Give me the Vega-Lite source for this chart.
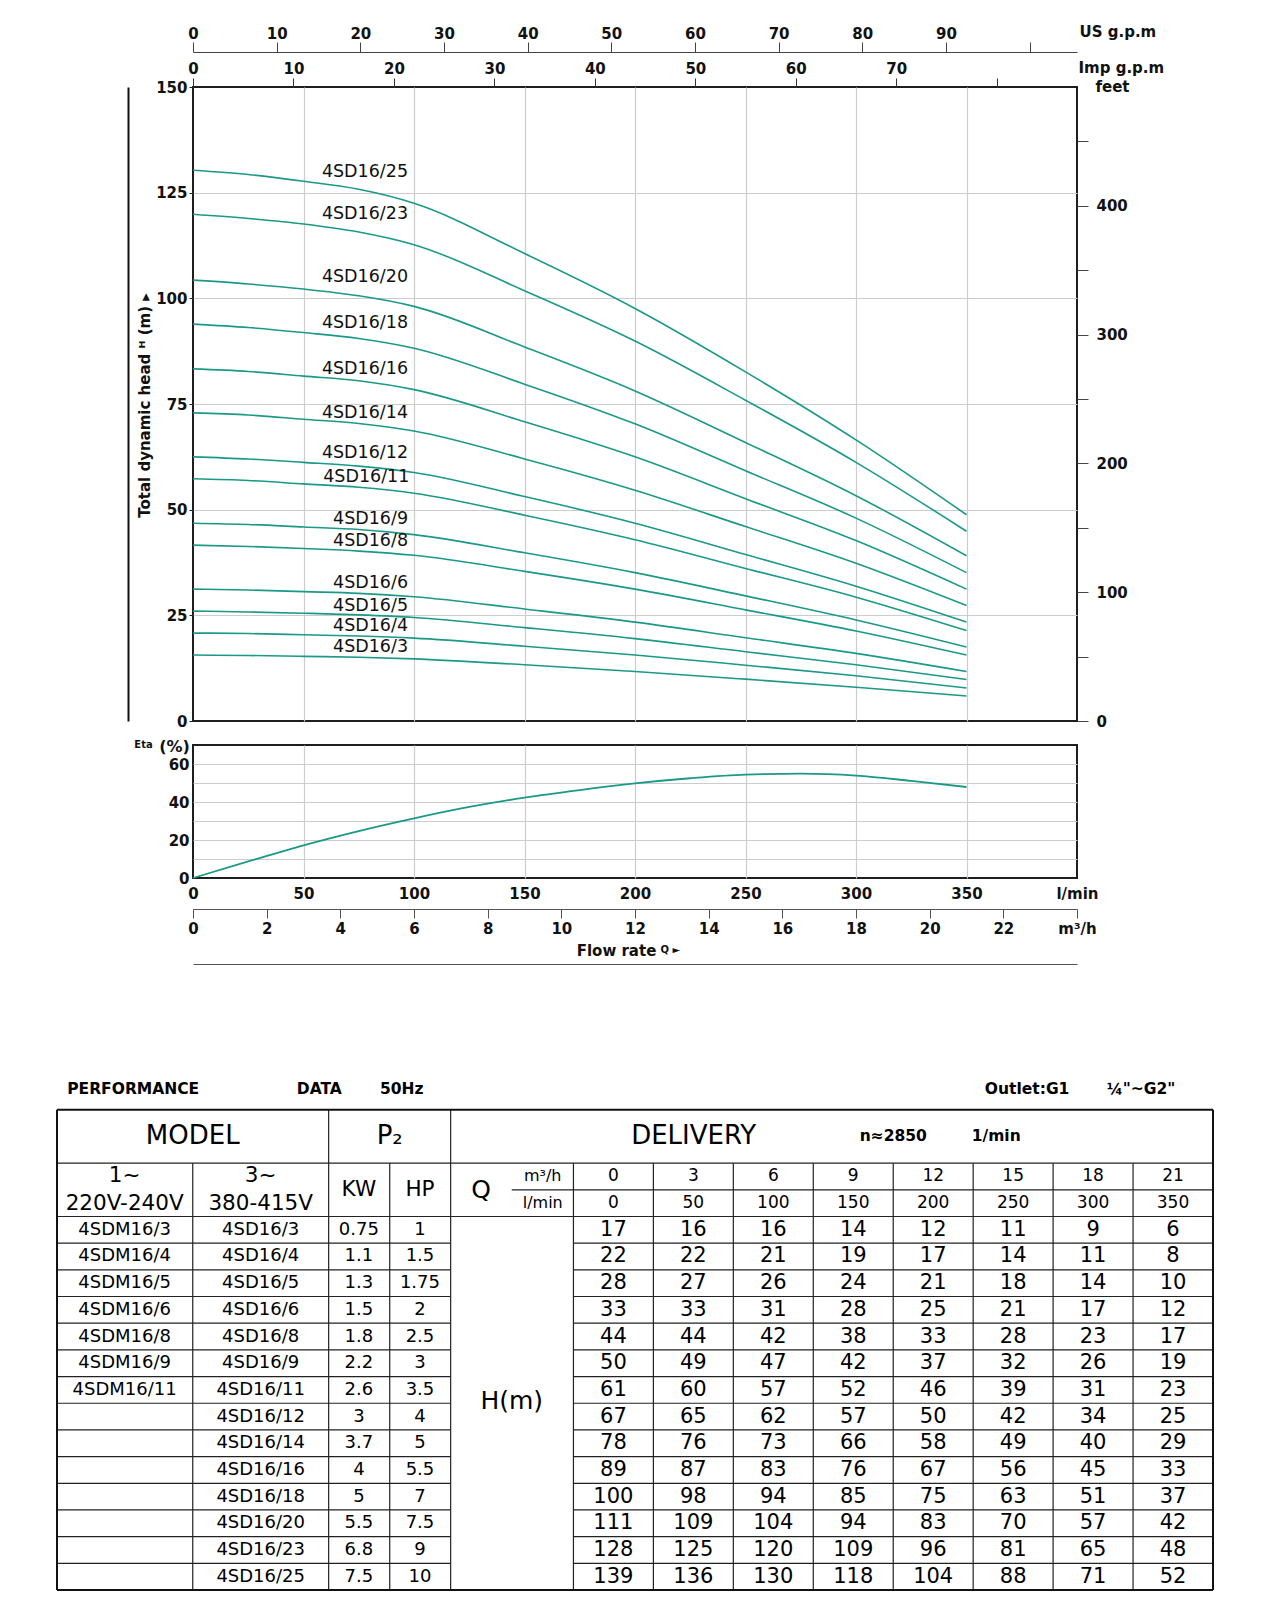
{
"$schema": "https://vega.github.io/schema/vega-lite/v6.json",
"background": "white",
"padding": {"left": 56, "top": 23, "right": 5, "bottom": 5},
"spacing": 24,
"center": true,
"bounds": "flush",
"config": {
  "font": "DejaVu Sans",
  "view": {"stroke": "#1e1e1e", "strokeWidth": 2},
  "axis": {"labelFont": "DejaVu Sans", "labelFontWeight": "bold", "labelFontSize": 15, "labelColor": "#111", "titleFont": "DejaVu Sans", "titleColor": "#111", "titleFontWeight": "bold", "titleFontSize": 15, "labelFlush": false, "labelOverlap": false, "gridColor": "#cccccc", "gridWidth": 1.2, "tickColor": "#333", "domainColor": "#333"},
  "text": {"font": "DejaVu Sans", "color": "#111"}
},
"datasets": {
  "curves": [
    {"model":"4SD16/25","q":0,"h":130.3},{"model":"4SD16/25","q":25,"h":129.3},{"model":"4SD16/25","q":50,"h":127.7},{"model":"4SD16/25","q":75,"h":125.8},{"model":"4SD16/25","q":100,"h":122.5},{"model":"4SD16/25","q":150,"h":110.6},{"model":"4SD16/25","q":200,"h":97.6},{"model":"4SD16/25","q":250,"h":82.6},{"model":"4SD16/25","q":300,"h":66.5},{"model":"4SD16/25","q":350,"h":48.8},
    {"model":"4SD16/23","q":0,"h":119.9},{"model":"4SD16/23","q":25,"h":118.9},{"model":"4SD16/23","q":50,"h":117.6},{"model":"4SD16/23","q":75,"h":115.7},{"model":"4SD16/23","q":100,"h":112.7},{"model":"4SD16/23","q":150,"h":101.8},{"model":"4SD16/23","q":200,"h":89.9},{"model":"4SD16/23","q":250,"h":75.9},{"model":"4SD16/23","q":300,"h":61.2},{"model":"4SD16/23","q":350,"h":44.9},
    {"model":"4SD16/20","q":0,"h":104.3},{"model":"4SD16/20","q":25,"h":103.4},{"model":"4SD16/20","q":50,"h":102.2},{"model":"4SD16/20","q":75,"h":100.6},{"model":"4SD16/20","q":100,"h":98.1},{"model":"4SD16/20","q":150,"h":88.5},{"model":"4SD16/20","q":200,"h":78.1},{"model":"4SD16/20","q":250,"h":65.9},{"model":"4SD16/20","q":300,"h":53.3},{"model":"4SD16/20","q":350,"h":39.1},
    {"model":"4SD16/18","q":0,"h":93.9},{"model":"4SD16/18","q":25,"h":93.1},{"model":"4SD16/18","q":50,"h":91.9},{"model":"4SD16/18","q":75,"h":90.5},{"model":"4SD16/18","q":100,"h":88.2},{"model":"4SD16/18","q":150,"h":79.7},{"model":"4SD16/18","q":200,"h":70.3},{"model":"4SD16/18","q":250,"h":59.2},{"model":"4SD16/18","q":300,"h":48.0},{"model":"4SD16/18","q":350,"h":35.1},
    {"model":"4SD16/16","q":0,"h":83.3},{"model":"4SD16/16","q":25,"h":82.7},{"model":"4SD16/16","q":50,"h":81.6},{"model":"4SD16/16","q":75,"h":80.5},{"model":"4SD16/16","q":100,"h":78.4},{"model":"4SD16/16","q":150,"h":70.8},{"model":"4SD16/16","q":200,"h":62.5},{"model":"4SD16/16","q":250,"h":52.6},{"model":"4SD16/16","q":300,"h":42.7},{"model":"4SD16/16","q":350,"h":31.2},
    {"model":"4SD16/14","q":0,"h":72.9},{"model":"4SD16/14","q":25,"h":72.4},{"model":"4SD16/14","q":50,"h":71.4},{"model":"4SD16/14","q":75,"h":70.4},{"model":"4SD16/14","q":100,"h":68.6},{"model":"4SD16/14","q":150,"h":62.0},{"model":"4SD16/14","q":200,"h":54.6},{"model":"4SD16/14","q":250,"h":46.0},{"model":"4SD16/14","q":300,"h":37.3},{"model":"4SD16/14","q":350,"h":27.3},
    {"model":"4SD16/12","q":0,"h":62.5},{"model":"4SD16/12","q":25,"h":62.0},{"model":"4SD16/12","q":50,"h":61.2},{"model":"4SD16/12","q":75,"h":60.3},{"model":"4SD16/12","q":100,"h":58.8},{"model":"4SD16/12","q":150,"h":53.1},{"model":"4SD16/12","q":200,"h":46.8},{"model":"4SD16/12","q":250,"h":39.4},{"model":"4SD16/12","q":300,"h":31.9},{"model":"4SD16/12","q":350,"h":23.4},
    {"model":"4SD16/11","q":0,"h":57.3},{"model":"4SD16/11","q":25,"h":56.9},{"model":"4SD16/11","q":50,"h":56.1},{"model":"4SD16/11","q":75,"h":55.3},{"model":"4SD16/11","q":100,"h":53.9},{"model":"4SD16/11","q":150,"h":48.7},{"model":"4SD16/11","q":200,"h":42.9},{"model":"4SD16/11","q":250,"h":36.1},{"model":"4SD16/11","q":300,"h":29.3},{"model":"4SD16/11","q":350,"h":21.4},
    {"model":"4SD16/9","q":0,"h":46.8},{"model":"4SD16/9","q":25,"h":46.5},{"model":"4SD16/9","q":50,"h":45.9},{"model":"4SD16/9","q":75,"h":45.3},{"model":"4SD16/9","q":100,"h":44.1},{"model":"4SD16/9","q":150,"h":39.8},{"model":"4SD16/9","q":200,"h":35.1},{"model":"4SD16/9","q":250,"h":29.6},{"model":"4SD16/9","q":300,"h":23.9},{"model":"4SD16/9","q":350,"h":17.5},
    {"model":"4SD16/8","q":0,"h":41.6},{"model":"4SD16/8","q":25,"h":41.3},{"model":"4SD16/8","q":50,"h":40.8},{"model":"4SD16/8","q":75,"h":40.2},{"model":"4SD16/8","q":100,"h":39.2},{"model":"4SD16/8","q":150,"h":35.4},{"model":"4SD16/8","q":200,"h":31.2},{"model":"4SD16/8","q":250,"h":26.3},{"model":"4SD16/8","q":300,"h":21.3},{"model":"4SD16/8","q":350,"h":15.6},
    {"model":"4SD16/6","q":0,"h":31.2},{"model":"4SD16/6","q":25,"h":31.0},{"model":"4SD16/6","q":50,"h":30.6},{"model":"4SD16/6","q":75,"h":30.2},{"model":"4SD16/6","q":100,"h":29.4},{"model":"4SD16/6","q":150,"h":26.5},{"model":"4SD16/6","q":200,"h":23.4},{"model":"4SD16/6","q":250,"h":19.7},{"model":"4SD16/6","q":300,"h":16.0},{"model":"4SD16/6","q":350,"h":11.7},
    {"model":"4SD16/5","q":0,"h":26.0},{"model":"4SD16/5","q":25,"h":25.8},{"model":"4SD16/5","q":50,"h":25.5},{"model":"4SD16/5","q":75,"h":25.1},{"model":"4SD16/5","q":100,"h":24.5},{"model":"4SD16/5","q":150,"h":22.1},{"model":"4SD16/5","q":200,"h":19.5},{"model":"4SD16/5","q":250,"h":16.4},{"model":"4SD16/5","q":300,"h":13.3},{"model":"4SD16/5","q":350,"h":9.8},
    {"model":"4SD16/4","q":0,"h":20.8},{"model":"4SD16/4","q":25,"h":20.7},{"model":"4SD16/4","q":50,"h":20.4},{"model":"4SD16/4","q":75,"h":20.1},{"model":"4SD16/4","q":100,"h":19.6},{"model":"4SD16/4","q":150,"h":17.7},{"model":"4SD16/4","q":200,"h":15.6},{"model":"4SD16/4","q":250,"h":13.2},{"model":"4SD16/4","q":300,"h":10.7},{"model":"4SD16/4","q":350,"h":7.8},
    {"model":"4SD16/3","q":0,"h":15.6},{"model":"4SD16/3","q":25,"h":15.5},{"model":"4SD16/3","q":50,"h":15.3},{"model":"4SD16/3","q":75,"h":15.1},{"model":"4SD16/3","q":100,"h":14.7},{"model":"4SD16/3","q":150,"h":13.3},{"model":"4SD16/3","q":200,"h":11.7},{"model":"4SD16/3","q":250,"h":9.9},{"model":"4SD16/3","q":300,"h":8.0},{"model":"4SD16/3","q":350,"h":5.9}
  ],
  "labels": [
    {"model":"4SD16/25","lq":97.3,"lh":130.0},{"model":"4SD16/23","lq":97.3,"lh":120.0},{"model":"4SD16/20","lq":97.3,"lh":105.0},{"model":"4SD16/18","lq":97.3,"lh":94.2},{"model":"4SD16/16","lq":97.3,"lh":83.3},{"model":"4SD16/14","lq":97.3,"lh":72.9},{"model":"4SD16/12","lq":97.3,"lh":63.5},{"model":"4SD16/11","lq":97.9,"lh":57.7},{"model":"4SD16/9","lq":97.3,"lh":47.9},{"model":"4SD16/8","lq":97.3,"lh":42.6},{"model":"4SD16/6","lq":97.3,"lh":32.7},{"model":"4SD16/5","lq":97.3,"lh":27.2},{"model":"4SD16/4","lq":97.3,"lh":22.5},{"model":"4SD16/3","lq":97.3,"lh":17.5}
  ],
  "eta": [
    {"q":0,"eta":0},{"q":25,"eta":8.7},{"q":50,"eta":17.2},{"q":75,"eta":24.7},{"q":100,"eta":31.4},{"q":125,"eta":37.4},{"q":150,"eta":42.3},{"q":175,"eta":46.3},{"q":200,"eta":49.8},{"q":225,"eta":52.5},{"q":250,"eta":54.4},{"q":275,"eta":54.9},{"q":300,"eta":53.9},{"q":325,"eta":51.1},{"q":350,"eta":47.9}
  ],
  "models": [
    {"row":1,"m1":"4SDM16/3","m3":"4SD16/3","kw":"0.75","hp":"1"},
    {"row":2,"m1":"4SDM16/4","m3":"4SD16/4","kw":"1.1","hp":"1.5"},
    {"row":3,"m1":"4SDM16/5","m3":"4SD16/5","kw":"1.3","hp":"1.75"},
    {"row":4,"m1":"4SDM16/6","m3":"4SD16/6","kw":"1.5","hp":"2"},
    {"row":5,"m1":"4SDM16/8","m3":"4SD16/8","kw":"1.8","hp":"2.5"},
    {"row":6,"m1":"4SDM16/9","m3":"4SD16/9","kw":"2.2","hp":"3"},
    {"row":7,"m1":"4SDM16/11","m3":"4SD16/11","kw":"2.6","hp":"3.5"},
    {"row":8,"m1":"","m3":"4SD16/12","kw":"3","hp":"4"},
    {"row":9,"m1":"","m3":"4SD16/14","kw":"3.7","hp":"5"},
    {"row":10,"m1":"","m3":"4SD16/16","kw":"4","hp":"5.5"},
    {"row":11,"m1":"","m3":"4SD16/18","kw":"5","hp":"7"},
    {"row":12,"m1":"","m3":"4SD16/20","kw":"5.5","hp":"7.5"},
    {"row":13,"m1":"","m3":"4SD16/23","kw":"6.8","hp":"9"},
    {"row":14,"m1":"","m3":"4SD16/25","kw":"7.5","hp":"10"}
  ],
  "qcols": [
    {"q":0,"m3h":0},{"q":50,"m3h":3},{"q":100,"m3h":6},{"q":150,"m3h":9},{"q":200,"m3h":12},{"q":250,"m3h":15},{"q":300,"m3h":18},{"q":350,"m3h":21}
  ],
  "hvals": [
    {"row":1,"q":0,"h":17},{"row":1,"q":50,"h":16},{"row":1,"q":100,"h":16},{"row":1,"q":150,"h":14},{"row":1,"q":200,"h":12},{"row":1,"q":250,"h":11},{"row":1,"q":300,"h":9},{"row":1,"q":350,"h":6},
    {"row":2,"q":0,"h":22},{"row":2,"q":50,"h":22},{"row":2,"q":100,"h":21},{"row":2,"q":150,"h":19},{"row":2,"q":200,"h":17},{"row":2,"q":250,"h":14},{"row":2,"q":300,"h":11},{"row":2,"q":350,"h":8},
    {"row":3,"q":0,"h":28},{"row":3,"q":50,"h":27},{"row":3,"q":100,"h":26},{"row":3,"q":150,"h":24},{"row":3,"q":200,"h":21},{"row":3,"q":250,"h":18},{"row":3,"q":300,"h":14},{"row":3,"q":350,"h":10},
    {"row":4,"q":0,"h":33},{"row":4,"q":50,"h":33},{"row":4,"q":100,"h":31},{"row":4,"q":150,"h":28},{"row":4,"q":200,"h":25},{"row":4,"q":250,"h":21},{"row":4,"q":300,"h":17},{"row":4,"q":350,"h":12},
    {"row":5,"q":0,"h":44},{"row":5,"q":50,"h":44},{"row":5,"q":100,"h":42},{"row":5,"q":150,"h":38},{"row":5,"q":200,"h":33},{"row":5,"q":250,"h":28},{"row":5,"q":300,"h":23},{"row":5,"q":350,"h":17},
    {"row":6,"q":0,"h":50},{"row":6,"q":50,"h":49},{"row":6,"q":100,"h":47},{"row":6,"q":150,"h":42},{"row":6,"q":200,"h":37},{"row":6,"q":250,"h":32},{"row":6,"q":300,"h":26},{"row":6,"q":350,"h":19},
    {"row":7,"q":0,"h":61},{"row":7,"q":50,"h":60},{"row":7,"q":100,"h":57},{"row":7,"q":150,"h":52},{"row":7,"q":200,"h":46},{"row":7,"q":250,"h":39},{"row":7,"q":300,"h":31},{"row":7,"q":350,"h":23},
    {"row":8,"q":0,"h":67},{"row":8,"q":50,"h":65},{"row":8,"q":100,"h":62},{"row":8,"q":150,"h":57},{"row":8,"q":200,"h":50},{"row":8,"q":250,"h":42},{"row":8,"q":300,"h":34},{"row":8,"q":350,"h":25},
    {"row":9,"q":0,"h":78},{"row":9,"q":50,"h":76},{"row":9,"q":100,"h":73},{"row":9,"q":150,"h":66},{"row":9,"q":200,"h":58},{"row":9,"q":250,"h":49},{"row":9,"q":300,"h":40},{"row":9,"q":350,"h":29},
    {"row":10,"q":0,"h":89},{"row":10,"q":50,"h":87},{"row":10,"q":100,"h":83},{"row":10,"q":150,"h":76},{"row":10,"q":200,"h":67},{"row":10,"q":250,"h":56},{"row":10,"q":300,"h":45},{"row":10,"q":350,"h":33},
    {"row":11,"q":0,"h":100},{"row":11,"q":50,"h":98},{"row":11,"q":100,"h":94},{"row":11,"q":150,"h":85},{"row":11,"q":200,"h":75},{"row":11,"q":250,"h":63},{"row":11,"q":300,"h":51},{"row":11,"q":350,"h":37},
    {"row":12,"q":0,"h":111},{"row":12,"q":50,"h":109},{"row":12,"q":100,"h":104},{"row":12,"q":150,"h":94},{"row":12,"q":200,"h":83},{"row":12,"q":250,"h":70},{"row":12,"q":300,"h":57},{"row":12,"q":350,"h":42},
    {"row":13,"q":0,"h":128},{"row":13,"q":50,"h":125},{"row":13,"q":100,"h":120},{"row":13,"q":150,"h":109},{"row":13,"q":200,"h":96},{"row":13,"q":250,"h":81},{"row":13,"q":300,"h":65},{"row":13,"q":350,"h":48},
    {"row":14,"q":0,"h":139},{"row":14,"q":50,"h":136},{"row":14,"q":100,"h":130},{"row":14,"q":150,"h":118},{"row":14,"q":200,"h":104},{"row":14,"q":250,"h":88},{"row":14,"q":300,"h":71},{"row":14,"q":350,"h":52}
  ],
  "tborder": [
    {"x":-348,"x2":375,"y":-3.5,"y2":-3.5},{"x":-348,"x2":375,"y":14.5,"y2":14.5},{"x":-348,"x2":-348,"y":-3.5,"y2":14.5},{"x":375,"x2":375,"y":-3.5,"y2":14.5}
  ],
  "tgrid": [
    {"x":-348,"x2":375,"y":-1.5,"y2":-1.5},{"x":-63.6,"x2":375,"y":-0.5,"y2":-0.5},{"x":-348,"x2":375,"y":0.5,"y2":0.5},
    {"x":-348,"x2":-101.8,"y":1.5,"y2":1.5},{"x":-25,"x2":375,"y":1.5,"y2":1.5},
    {"x":-348,"x2":-101.8,"y":2.5,"y2":2.5},{"x":-25,"x2":375,"y":2.5,"y2":2.5},
    {"x":-348,"x2":-101.8,"y":3.5,"y2":3.5},{"x":-25,"x2":375,"y":3.5,"y2":3.5},
    {"x":-348,"x2":-101.8,"y":4.5,"y2":4.5},{"x":-25,"x2":375,"y":4.5,"y2":4.5},
    {"x":-348,"x2":-101.8,"y":5.5,"y2":5.5},{"x":-25,"x2":375,"y":5.5,"y2":5.5},
    {"x":-348,"x2":-101.8,"y":6.5,"y2":6.5},{"x":-25,"x2":375,"y":6.5,"y2":6.5},
    {"x":-348,"x2":-101.8,"y":7.5,"y2":7.5},{"x":-25,"x2":375,"y":7.5,"y2":7.5},
    {"x":-348,"x2":-101.8,"y":8.5,"y2":8.5},{"x":-25,"x2":375,"y":8.5,"y2":8.5},
    {"x":-348,"x2":-101.8,"y":9.5,"y2":9.5},{"x":-25,"x2":375,"y":9.5,"y2":9.5},
    {"x":-348,"x2":-101.8,"y":10.5,"y2":10.5},{"x":-25,"x2":375,"y":10.5,"y2":10.5},
    {"x":-348,"x2":-101.8,"y":11.5,"y2":11.5},{"x":-25,"x2":375,"y":11.5,"y2":11.5},
    {"x":-348,"x2":-101.8,"y":12.5,"y2":12.5},{"x":-25,"x2":375,"y":12.5,"y2":12.5},
    {"x":-348,"x2":-101.8,"y":13.5,"y2":13.5},{"x":-25,"x2":375,"y":13.5,"y2":13.5},
    {"x":-263.1,"x2":-263.1,"y":-1.5,"y2":14.5},{"x":-178.1,"x2":-178.1,"y":-3.5,"y2":14.5},{"x":-139.9,"x2":-139.9,"y":-1.5,"y2":14.5},{"x":-101.8,"x2":-101.8,"y":-3.5,"y2":14.5},{"x":-25,"x2":-25,"y":-1.5,"y2":14.5},
    {"x":25,"x2":25,"y":-1.5,"y2":14.5},{"x":75,"x2":75,"y":-1.5,"y2":14.5},{"x":125,"x2":125,"y":-1.5,"y2":14.5},{"x":175,"x2":175,"y":-1.5,"y2":14.5},{"x":225,"x2":225,"y":-1.5,"y2":14.5},{"x":275,"x2":275,"y":-1.5,"y2":14.5},{"x":325,"x2":325,"y":-1.5,"y2":14.5}
  ],
  "tbig": [
    {"t":"MODEL","x":-263.1,"y":-2.5},{"t":"P₂","x":-139.9,"y":-2.5},{"t":"DELIVERY","x":50.2,"y":-2.5}
  ],
  "tmid": [
    {"t":"1~","x":-305.7,"y":-1.03},{"t":"220V-240V","x":-305.7,"y":0.02},{"t":"3~","x":-220.6,"y":-1.03},{"t":"380-415V","x":-220.6,"y":0.02},{"t":"KW","x":-159.2,"y":-0.5},{"t":"HP","x":-121.0,"y":-0.5}
  ],
  "tq": [
    {"t":"Q","x":-82.7,"y":-0.5},{"t":"H(m)","x":-63.6,"y":7.4}
  ],
  "tunit": [
    {"t":"m³/h","x":-44.2,"y":-1.0},{"t":"l/min","x":-44.2,"y":0.0}
  ],
  "tbold": [
    {"t":"PERFORMANCE","x":-341.6,"y":-4.26},{"t":"DATA","x":-198,"y":-4.26},{"t":"50Hz","x":-146,"y":-4.26},{"t":"Outlet:G1","x":232.3,"y":-4.26},{"t":"¼\"~G2\"","x":308.5,"y":-4.26},{"t":"n≈2850","x":154,"y":-2.5},{"t":"1/min","x":224.1,"y":-2.5}
  ]
},
"vconcat": [
  {
    "width": 884, "height": 634,
    "layer": [
      {
        "data": {"name": "curves"},
        "mark": {"type": "line", "interpolate": "monotone", "color": "#1a9988", "strokeWidth": 1.6},
        "encoding": {
          "x": {"field": "q", "type": "quantitative", "scale": {"domain": [0, 400], "nice": false, "zero": false},
                "axis": {"orient": "bottom", "values": [50,100,150,200,250,300,350], "grid": true, "labels": false, "ticks": false, "domain": false, "title": null}},
          "y": {"field": "h", "type": "quantitative", "scale": {"domain": [0, 150], "nice": false, "zero": false},
                "axis": {"orient": "left", "values": [0,25,50,75,100,125,150], "grid": true,
                         "gridOpacity": {"condition": {"test": "datum.value == 0 || datum.value == 150", "value": 0}, "value": 1},
                         "tickSize": 4, "tickColor": "#222", "labelPadding": 2, "domain": false,
                         "title": "Total dynamic head ᴴ (m) ▸", "titleAngle": -90, "titleX": -49, "titleY": 318, "titleAlign": "center", "titleBaseline": "middle"}},
          "detail": {"field": "model"}
        }
      },
      {
        "data": {"name": "labels"},
        "mark": {"type": "text", "align": "right", "baseline": "middle", "fontSize": 17.5, "color": "#111"},
        "encoding": {
          "x": {"field": "lq", "type": "quantitative", "scale": {"domain": [0, 400], "nice": false, "zero": false}, "axis": null},
          "y": {"field": "lh", "type": "quantitative", "scale": {"domain": [0, 150], "nice": false, "zero": false}, "axis": null},
          "text": {"field": "model"}
        }
      },
      {
        "data": {"name": "curves"},
        "mark": {"type": "point", "opacity": 0},
        "encoding": {
          "x": {"field": "q", "type": "quantitative", "scale": {"domain": [0, 400], "nice": false, "zero": false},
                "axis": {"orient": "top", "offset": 35, "values": [0,37.8541,75.7082,113.5624,151.4165,189.2706,227.1247,264.9788,302.833,340.6871,378.5412],
                         "labelExpr": "datum.value > 360 ? '' : format(datum.value/3.785411784, '.0f')",
                         "tickSize": 10, "labelPadding": 1, "domain": true, "domainColor": "#444", "domainWidth": 1.2, "tickColor": "#444", "grid": false,
                         "title": "US g.p.m", "titleX": 886, "titleY": -16, "titleAlign": "left", "titleBaseline": "alphabetic", "titleAngle": 0}},
          "y": {"field": "h", "type": "quantitative", "scale": {"domain": [0, 150], "nice": false, "zero": false},
                "axis": {"orient": "right", "values": [0,15.24,30.48,45.72,60.96,76.2,91.44,106.68,121.92,137.16],
                         "labelExpr": "(round(datum.value/0.3048) % 100 == 0) ? format(datum.value/0.3048, '.0f') : ''",
                         "tickSize": 11, "tickColor": "#444", "labelPadding": 8, "domain": false, "grid": false,
                         "title": "feet", "titleAngle": 0, "titleX": 35, "titleY": 4, "titleAlign": "center", "titleBaseline": "alphabetic"}}
        }
      },
      {
        "data": {"name": "curves"},
        "mark": {"type": "point", "opacity": 0},
        "encoding": {
          "x": {"field": "q", "type": "quantitative", "scale": {"domain": [0, 400], "nice": false, "zero": false},
                "axis": {"orient": "top", "offset": 0, "values": [0,45.4609,90.9218,136.3827,181.8436,227.3045,272.7654,318.2263,363.6872],
                         "labelExpr": "datum.value > 340 ? '' : format(datum.value/4.54609, '.0f')",
                         "tickSize": 9, "labelPadding": 2, "domain": false, "tickColor": "#333", "grid": false,
                         "title": "Imp g.p.m", "titleX": 885, "titleY": -15, "titleAlign": "left", "titleBaseline": "alphabetic", "titleAngle": 0}},
          "y": {"field": "h", "type": "quantitative", "scale": {"domain": [0, 150], "nice": false, "zero": false},
                "axis": {"orient": "left", "offset": 65, "domain": true, "domainWidth": 2, "domainColor": "#111", "ticks": false, "labels": false, "grid": false, "title": null}}
        }
      }
    ],
    "resolve": {"axis": {"x": "independent", "y": "independent"}}
  },
  {
    "width": 884, "height": 133,
    "layer": [
      {
        "data": {"name": "eta"},
        "mark": {"type": "line", "interpolate": "monotone", "color": "#1a9988", "strokeWidth": 1.8},
        "encoding": {
          "x": {"field": "q", "type": "quantitative", "scale": {"domain": [0, 400], "nice": false, "zero": false},
                "axis": {"orient": "bottom", "values": [0,50,100,150,200,250,300,350,400],
                         "labelExpr": "datum.value > 390 ? 'l/min' : datum.label",
                         "grid": true, "gridOpacity": {"condition": {"test": "datum.value == 0 || datum.value == 400", "value": 0}, "value": 1},
                         "ticks": false, "domain": false, "labelPadding": 8, "title": null}},
          "y": {"field": "eta", "type": "quantitative", "scale": {"domain": [0, 70], "nice": false, "zero": false},
                "axis": {"orient": "left", "values": [0,10,20,30,40,50,60,70],
                         "labelExpr": "(datum.value % 20 == 0 && datum.value < 70) ? datum.label : ''",
                         "grid": true, "gridOpacity": {"condition": {"test": "datum.value == 0 || datum.value == 70", "value": 0}, "value": 1},
                         "ticks": false, "labelPadding": 4, "domain": false,
                         "title": "(%)", "titleFontSize": 16, "titleAngle": 0, "titleX": -19, "titleY": 6, "titleAlign": "center", "titleBaseline": "alphabetic"}}
        }
      },
      {
        "data": {"name": "eta"},
        "mark": {"type": "point", "opacity": 0},
        "encoding": {
          "x": {"field": "q", "type": "quantitative", "scale": {"domain": [0, 400], "nice": false, "zero": false},
                "axis": {"orient": "bottom", "offset": 31, "values": [0,33.3333,66.6667,100,133.3333,166.6667,200,233.3333,266.6667,300,333.3333,366.6667,400],
                         "labelExpr": "datum.value > 390 ? 'm³/h' : format(datum.value*0.06, '.0f')",
                         "tickSize": 9, "tickColor": "#555", "domain": true, "domainColor": "#555", "domainWidth": 1.2, "labelPadding": 3, "grid": false,
                         "title": "Flow rate", "titleX": 423, "titleY": 46, "titleAlign": "center", "titleBaseline": "alphabetic", "titleAngle": 0}},
          "y": {"field": "eta", "type": "quantitative", "scale": {"domain": [0, 70], "nice": false, "zero": false},
                "axis": {"orient": "left", "domain": false, "ticks": false, "labels": false, "grid": false,
                         "title": "Eta", "titleFontSize": 10, "titleAngle": 0, "titleX": -50, "titleY": 2, "titleAlign": "center", "titleBaseline": "alphabetic"}}
        }
      },
      {
        "data": {"name": "eta"},
        "mark": {"type": "point", "opacity": 0},
        "encoding": {
          "x": {"field": "q", "type": "quantitative", "scale": {"domain": [0, 400], "nice": false, "zero": false},
                "axis": {"orient": "bottom", "offset": 86, "domain": true, "domainColor": "#555", "domainWidth": 1.2, "ticks": false, "labels": false, "grid": false,
                         "title": "Q  ►", "titleFontSize": 10, "titleX": 467, "titleY": -12, "titleAlign": "left", "titleBaseline": "alphabetic", "titleAngle": 0}},
          "y": {"field": "eta", "type": "quantitative", "scale": {"domain": [0, 70], "nice": false, "zero": false}, "axis": null}
        }
      }
    ],
    "resolve": {"axis": {"x": "independent", "y": "independent"}}
  },
  {
    "width": 1156, "height": 688,
    "view": {"stroke": null},
    "layer": [
      {
        "data": {"name": "tgrid"},
        "mark": {"type": "rule", "color": "#222", "strokeWidth": 1.2},
        "encoding": {
          "x": {"field": "x", "type": "quantitative", "scale": {"domain": [-348, 375], "nice": false, "zero": false}, "axis": null},
          "x2": {"field": "x2"},
          "y": {"field": "y", "type": "quantitative", "scale": {"domain": [-11.287, 14.5], "nice": false, "zero": false, "reverse": true}, "axis": null},
          "y2": {"field": "y2"}
        }
      },
      {
        "data": {"name": "tborder"},
        "mark": {"type": "rule", "color": "#111", "strokeWidth": 2},
        "encoding": {
          "x": {"field": "x", "type": "quantitative", "scale": {"domain": [-348, 375], "nice": false, "zero": false}, "axis": null},
          "x2": {"field": "x2"},
          "y": {"field": "y", "type": "quantitative", "scale": {"domain": [-11.287, 14.5], "nice": false, "zero": false, "reverse": true}, "axis": null},
          "y2": {"field": "y2"}
        }
      },
      {
        "data": {"name": "tbig"},
        "mark": {"type": "text", "align": "center", "baseline": "middle", "fontSize": 26, "color": "#000"},
        "encoding": {
          "x": {"field": "x", "type": "quantitative", "scale": {"domain": [-348, 375], "nice": false, "zero": false}, "axis": null},
          "y": {"field": "y", "type": "quantitative", "scale": {"domain": [-11.287, 14.5], "nice": false, "zero": false, "reverse": true}, "axis": null},
          "text": {"field": "t"}
        }
      },
      {
        "data": {"name": "tmid"},
        "mark": {"type": "text", "align": "center", "baseline": "middle", "fontSize": 21.5, "color": "#000"},
        "encoding": {
          "x": {"field": "x", "type": "quantitative", "scale": {"domain": [-348, 375], "nice": false, "zero": false}, "axis": null},
          "y": {"field": "y", "type": "quantitative", "scale": {"domain": [-11.287, 14.5], "nice": false, "zero": false, "reverse": true}, "axis": null},
          "text": {"field": "t"}
        }
      },
      {
        "data": {"name": "tq"},
        "mark": {"type": "text", "align": "center", "baseline": "middle", "fontSize": 25, "color": "#000"},
        "encoding": {
          "x": {"field": "x", "type": "quantitative", "scale": {"domain": [-348, 375], "nice": false, "zero": false}, "axis": null},
          "y": {"field": "y", "type": "quantitative", "scale": {"domain": [-11.287, 14.5], "nice": false, "zero": false, "reverse": true}, "axis": null},
          "text": {"field": "t"}
        }
      },
      {
        "data": {"name": "tunit"},
        "mark": {"type": "text", "align": "center", "baseline": "middle", "fontSize": 16, "color": "#000"},
        "encoding": {
          "x": {"field": "x", "type": "quantitative", "scale": {"domain": [-348, 375], "nice": false, "zero": false}, "axis": null},
          "y": {"field": "y", "type": "quantitative", "scale": {"domain": [-11.287, 14.5], "nice": false, "zero": false, "reverse": true}, "axis": null},
          "text": {"field": "t"}
        }
      },
      {
        "data": {"name": "tbold"},
        "mark": {"type": "text", "align": "left", "baseline": "middle", "fontSize": 15.5, "fontWeight": "bold", "color": "#000"},
        "encoding": {
          "x": {"field": "x", "type": "quantitative", "scale": {"domain": [-348, 375], "nice": false, "zero": false}, "axis": null},
          "y": {"field": "y", "type": "quantitative", "scale": {"domain": [-11.287, 14.5], "nice": false, "zero": false, "reverse": true}, "axis": null},
          "text": {"field": "t"}
        }
      },
      {
        "data": {"name": "qcols"},
        "mark": {"type": "text", "align": "center", "baseline": "middle", "fontSize": 17, "color": "#000"},
        "encoding": {
          "x": {"field": "q", "type": "quantitative", "scale": {"domain": [-348, 375], "nice": false, "zero": false}, "axis": null},
          "y": {"datum": -1.0, "type": "quantitative", "scale": {"domain": [-11.287, 14.5], "nice": false, "zero": false, "reverse": true}, "axis": null},
          "text": {"field": "m3h"}
        }
      },
      {
        "data": {"name": "qcols"},
        "mark": {"type": "text", "align": "center", "baseline": "middle", "fontSize": 17, "color": "#000"},
        "encoding": {
          "x": {"field": "q", "type": "quantitative", "scale": {"domain": [-348, 375], "nice": false, "zero": false}, "axis": null},
          "y": {"datum": 0.0, "type": "quantitative", "scale": {"domain": [-11.287, 14.5], "nice": false, "zero": false, "reverse": true}, "axis": null},
          "text": {"field": "q"}
        }
      },
      {
        "data": {"name": "models"},
        "mark": {"type": "text", "align": "center", "baseline": "middle", "fontSize": 18, "color": "#000"},
        "encoding": {
          "x": {"datum": -305.7, "type": "quantitative", "scale": {"domain": [-348, 375], "nice": false, "zero": false}, "axis": null},
          "y": {"field": "row", "type": "quantitative", "scale": {"domain": [-11.287, 14.5], "nice": false, "zero": false, "reverse": true}, "axis": null},
          "text": {"field": "m1"}
        }
      },
      {
        "data": {"name": "models"},
        "mark": {"type": "text", "align": "center", "baseline": "middle", "fontSize": 18, "color": "#000"},
        "encoding": {
          "x": {"datum": -220.6, "type": "quantitative", "scale": {"domain": [-348, 375], "nice": false, "zero": false}, "axis": null},
          "y": {"field": "row", "type": "quantitative", "scale": {"domain": [-11.287, 14.5], "nice": false, "zero": false, "reverse": true}, "axis": null},
          "text": {"field": "m3"}
        }
      },
      {
        "data": {"name": "models"},
        "mark": {"type": "text", "align": "center", "baseline": "middle", "fontSize": 18, "color": "#000"},
        "encoding": {
          "x": {"datum": -159.2, "type": "quantitative", "scale": {"domain": [-348, 375], "nice": false, "zero": false}, "axis": null},
          "y": {"field": "row", "type": "quantitative", "scale": {"domain": [-11.287, 14.5], "nice": false, "zero": false, "reverse": true}, "axis": null},
          "text": {"field": "kw"}
        }
      },
      {
        "data": {"name": "models"},
        "mark": {"type": "text", "align": "center", "baseline": "middle", "fontSize": 18, "color": "#000"},
        "encoding": {
          "x": {"datum": -121.0, "type": "quantitative", "scale": {"domain": [-348, 375], "nice": false, "zero": false}, "axis": null},
          "y": {"field": "row", "type": "quantitative", "scale": {"domain": [-11.287, 14.5], "nice": false, "zero": false, "reverse": true}, "axis": null},
          "text": {"field": "hp"}
        }
      },
      {
        "data": {"name": "hvals"},
        "mark": {"type": "text", "align": "center", "baseline": "middle", "fontSize": 21, "color": "#000"},
        "encoding": {
          "x": {"field": "q", "type": "quantitative", "scale": {"domain": [-348, 375], "nice": false, "zero": false}, "axis": null},
          "y": {"field": "row", "type": "quantitative", "scale": {"domain": [-11.287, 14.5], "nice": false, "zero": false, "reverse": true}, "axis": null},
          "text": {"field": "h"}
        }
      }
    ]
  }
]
}
